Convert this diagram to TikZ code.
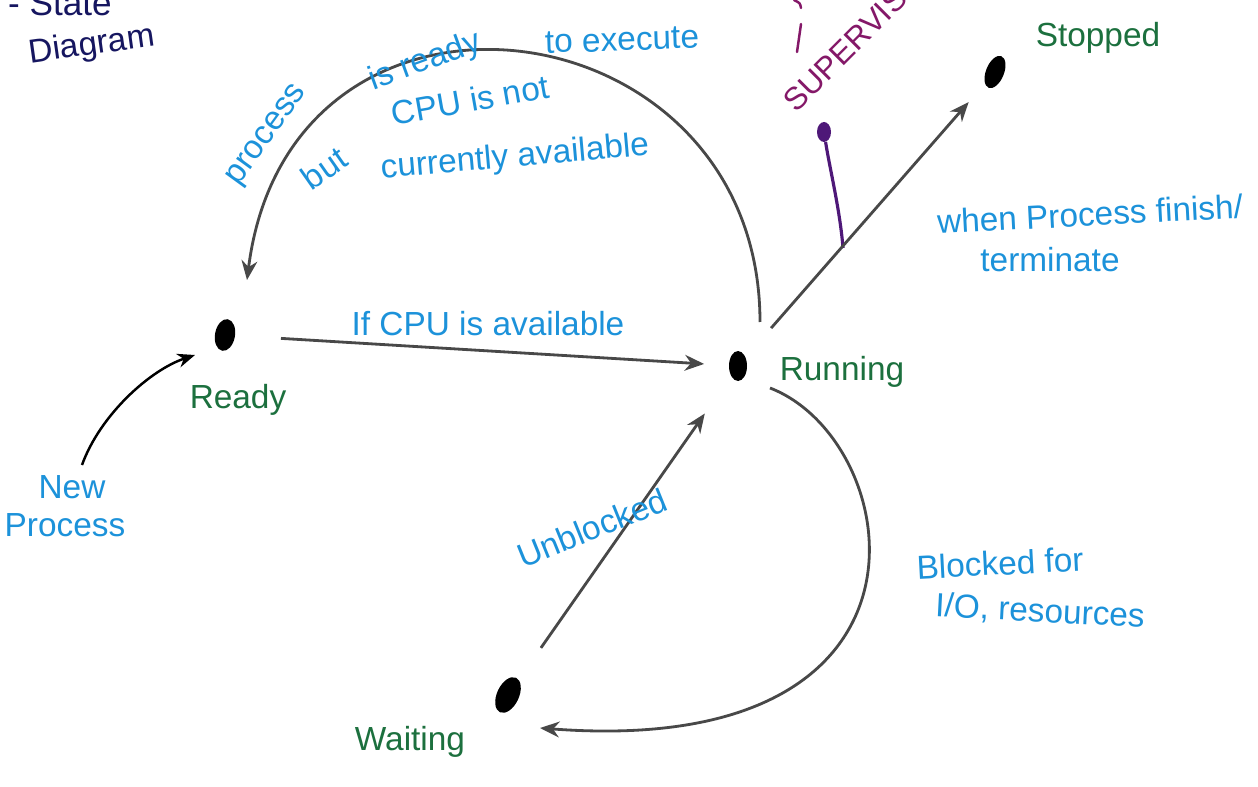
\documentclass[tikz,border=0pt]{standalone}
\usepackage{fontspec}
\setmainfont{Liberation Sans}
\usetikzlibrary{arrows.meta,shapes.geometric,calc}

\definecolor{inkblue}{RGB}{28,146,218}
\definecolor{inkgreen}{RGB}{28,112,62}
\definecolor{inknavy}{RGB}{22,22,96}
\definecolor{inkpurple}{RGB}{132,24,104}
\definecolor{inkviolet}{RGB}{78,24,120}
\definecolor{pencil}{RGB}{72,72,72}

\tikzset{
  statedot/.style={ellipse, fill=black, inner sep=0pt, minimum width=20*0.02cm, minimum height=32*0.02cm},
  note/.style={text=inkblue, font=\fontsize{19}{22}\selectfont, inner sep=1pt},
  statename/.style={text=inkgreen, font=\fontsize{19}{22}\selectfont, inner sep=1pt},
  trans/.style={draw=pencil, line width=1.6pt, -{Stealth[length=11pt,width=9pt]}},
}

\begin{document}
\begin{tikzpicture}[x=0.02cm, y=-0.02cm]
  \useasboundingbox (0,0) rectangle (1258,787);
  \clip (0,0) rectangle (1258,787);
  \fill[white] (0,0) rectangle (1258,787);

  % heading
  \node[anchor=base west, text=inknavy, font=\fontsize{20}{22}\selectfont] (head) at (2,16) {- State};
  \node[text=inknavy, rotate=8, font=\fontsize{19}{22}\selectfont] (diag) at (92,46) {Diagram};

  % states
  \node[statedot, rotate=-10] (rdy) at (225,335) {};
  \node[statedot, minimum width=18*0.02cm, minimum height=30*0.02cm] (run) at (738,366) {};
  \node[statedot, minimum width=18*0.02cm, minimum height=34*0.02cm, rotate=-22] (stop) at (995,72) {};
  \node[statedot, minimum width=22*0.02cm, minimum height=38*0.02cm, rotate=-25] (wait) at (508,695) {};

  \node[statename] (rdyl) at (238,400) {Ready};
  \node[statename] (runl) at (842,372) {Running};
  \node[statename] (stopl) at (1098,38) {Stopped};
  \node[statename] (waitl) at (410,742) {Waiting};

  % supervisor mark
  \node[anchor=base west, rotate=45, text=inkpurple, font=\fontsize{18}{20}\selectfont] (sup) at (792,118) {SUPERVISOR};
  \draw[inkpurple, line width=1.4pt, line cap=round] (801,24) -- (797,52);
  \draw[inkpurple, line width=1.4pt, line cap=round] (794,0) .. controls (800,3) .. (801,8);
  \node[ellipse, fill=inkviolet, inner sep=0pt, minimum width=14*0.02cm, minimum height=20*0.02cm] (supdot) at (824,132) {};
  \coordinate (suphit) at (843,248);
  \draw[inkviolet, line width=1.8pt] (supdot) .. controls (830,170) and (840,210) .. (suphit);

  % transitions
  \draw[trans, shorten <=26pt, shorten >=14pt] (rdy) -- (run);
  \draw[trans, shorten <=22pt, shorten >=14pt] (run) -- (stop);
  \draw[trans, shorten <=22pt, shorten >=26pt] (wait) -- (run);
  \draw[trans] ($(run)+(22,-44)$) .. controls (760,0) and (290,-60) .. ($(rdy)+(22,-55)$);
  \draw[trans] ($(run)+(32,22)$) .. controls (905,440) and (960,760) .. ($(wait)+(32,33)$);

  \coordinate (newp) at (82,465);
  \draw[draw=black, line width=1.4pt, -{Stealth[length=10pt,width=8pt]}]
    (newp) .. controls (100,415) and (150,370) .. ($(rdy)+(-30,20)$);

  % labels
  \node[note] (l1) at (488,324) {If CPU is available};
  \node[note, rotate=54] (l2a) at (268,136) {process};
  \node[note, rotate=20] (l2b) at (425,62) {is ready};
  \node[note, rotate=2] (l2c) at (622,40) {to execute};
  \node[note, rotate=35] (l2d) at (324,168) {but};
  \node[note, rotate=10] (l2e) at (470,100) {CPU is not};
  \node[note, rotate=5] (l2f) at (515,158) {currently available};
  \node[note, rotate=3] (l3a) at (1090,214) {when Process finish/};
  \node[note] (l3b) at (1050,260) {terminate};
  \node[note, rotate=3] (l4a) at (1000,563) {Blocked for};
  \node[note, rotate=-3] (l4b) at (1040,612) {I/O, resources};
  \node[note, rotate=22] (l5) at (592,528) {Unblocked};
  \node[note] (l6a) at (72,487) {New};
  \node[note] (l6b) at (65,525) {Process};
\end{tikzpicture}
\end{document}
